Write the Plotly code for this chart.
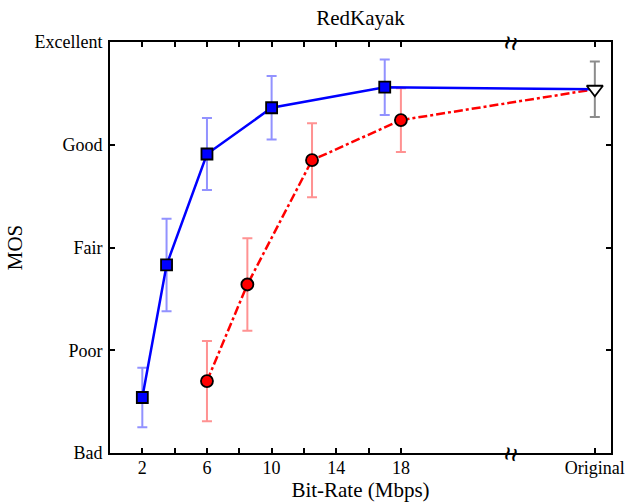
import plotly.graph_objects as go

# Subjective quality (MOS) versus bit-rate for the RedKayak sequence
blue_rate = [2, 3.5, 6, 10, 17]
blue_mos = [1.54, 2.83, 3.91, 4.36, 4.56]
blue_err = [0.29, 0.45, 0.35, 0.31, 0.27]

red_rate = [6, 8.5, 12.5, 18]
red_mos = [1.70, 2.64, 3.85, 4.24]
red_err = [0.39, 0.45, 0.36, 0.31]

orig_pos = 30          # "Original" sits past the axis break
orig_mos = 4.54
orig_err = 0.27
break_pos = 24.8

x_ticks = [2, 4, 6, 8, 10, 12, 14, 16, 18, 30]
x_labels = ["2", "", "6", "", "10", "", "14", "", "18", "Original"]
y_ticks = [1, 2, 3, 4, 5]
y_labels = ["Bad", "Poor", "Fair", "Good", "Excellent"]

FONT = "Liberation Serif, Times New Roman, serif"
TICK_SIZE = 18
LABEL_SIZE = 21

fig = go.Figure()

# error bars first so lines and markers sit on top
fig.add_trace(go.Scatter(
    x=blue_rate, y=blue_mos, mode="markers", marker=dict(size=1, opacity=0),
    error_y=dict(type="data", array=blue_err, color="rgba(110,110,255,0.75)",
                 thickness=2, width=5),
    showlegend=False, hoverinfo="skip"))
fig.add_trace(go.Scatter(
    x=red_rate, y=red_mos, mode="markers", marker=dict(size=1, opacity=0),
    error_y=dict(type="data", array=red_err, color="rgba(255,110,110,0.75)",
                 thickness=2, width=5),
    showlegend=False, hoverinfo="skip"))
fig.add_trace(go.Scatter(
    x=[orig_pos], y=[orig_mos], mode="markers", marker=dict(size=1, opacity=0),
    error_y=dict(type="data", array=[orig_err], color="rgb(140,140,140)",
                 thickness=2, width=5),
    showlegend=False, hoverinfo="skip"))

# curves, each continuing to the original-quality point
fig.add_trace(go.Scatter(
    x=red_rate + [orig_pos], y=red_mos + [orig_mos], mode="lines",
    line=dict(color="#ff0000", width=2.5, dash="dashdot"), showlegend=False))
fig.add_trace(go.Scatter(
    x=blue_rate + [orig_pos], y=blue_mos + [orig_mos], mode="lines",
    line=dict(color="#0000ff", width=2.5), showlegend=False))

fig.add_trace(go.Scatter(
    x=red_rate, y=red_mos, mode="markers",
    marker=dict(symbol="circle", size=12, color="#ff0000",
                line=dict(color="black", width=1.8)), showlegend=False))
fig.add_trace(go.Scatter(
    x=blue_rate, y=blue_mos, mode="markers",
    marker=dict(symbol="square", size=11, color="#0000ff",
                line=dict(color="black", width=1.8)), showlegend=False))
fig.add_trace(go.Scatter(
    x=[orig_pos], y=[orig_mos], mode="markers",
    marker=dict(symbol="triangle-down", size=14, color="white",
                line=dict(color="black", width=1.8)), showlegend=False))

# axis-break marks on the top and bottom axes
for yy in (0, 1):
    fig.add_annotation(x=break_pos, y=yy, xref="x", yref="paper",
                       xanchor="center", yanchor="middle",
                       text="<b>≀≀</b>", showarrow=False, textangle=12,
                       font=dict(family="DejaVu Sans", size=19, color="black"))

axis_common = dict(showline=True, linecolor="black", linewidth=2, mirror="ticks",
                   ticks="inside", ticklen=5, tickwidth=2, tickcolor="black",
                   showgrid=False, zeroline=False, automargin=False,
                   tickfont=dict(family=FONT, size=TICK_SIZE, color="black"))

fig.update_xaxes(range=[0, 31], tickmode="array", tickvals=x_ticks,
                 ticktext=x_labels, ticklabelstandoff=-3,
                 title=dict(text="Bit-Rate (Mbps)", standoff=0,
                            font=dict(family=FONT, size=LABEL_SIZE, color="black")),
                 **axis_common)
fig.update_yaxes(range=[1, 5], tickmode="array", tickvals=y_ticks,
                 ticktext=y_labels, ticklabelstandoff=2,
                 title=dict(text="MOS", standoff=6,
                            font=dict(family=FONT, size=LABEL_SIZE, color="black")),
                 **axis_common)

fig.update_layout(
    width=628, height=502,
    margin=dict(l=110, r=17, t=42, b=49),
    paper_bgcolor="white", plot_bgcolor="white",
    title=dict(text="RedKayak", x=0.5, xref="paper", xanchor="center",
               y=0.965, yanchor="middle",
               font=dict(family=FONT, size=LABEL_SIZE, color="black")),
)

fig.write_html("out.html")
